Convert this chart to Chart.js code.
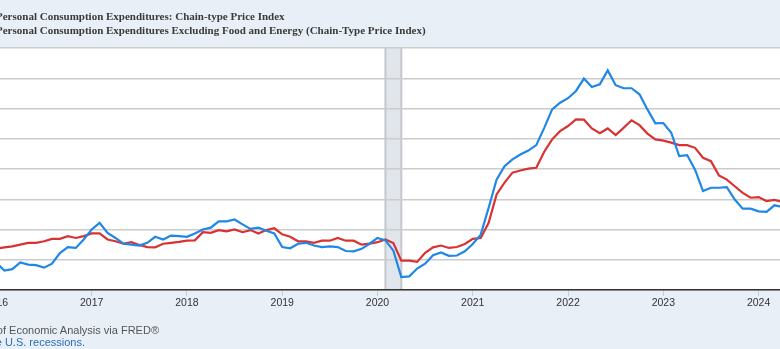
<!DOCTYPE html>
<html>
<head>
<meta charset="utf-8">
<script src="https://cdn.jsdelivr.net/npm/chart.js@4.4.1/dist/chart.umd.min.js"></script>
<style>
html, body { margin: 0; padding: 0; width: 780px; height: 349px; overflow: hidden; background: #e8eff7; }
#wrap { position: absolute; left: -80px; top: 0; width: 880px; height: 349px; }
.ttl { position: absolute; left: -4px; font: bold 11px "Liberation Serif", "Times New Roman", serif; color: #3a3a3a; white-space: nowrap; }
.foot { position: absolute; font: 11px "Liberation Sans", Arial, sans-serif; white-space: nowrap; }
</style>
</head>
<body>
<div id="wrap"><canvas id="myChart"></canvas></div>
<div class="ttl" style="top:10px">Personal Consumption Expenditures: Chain-type Price Index</div>
<div class="ttl" style="top:24px">Personal Consumption Expenditures Excluding Food and Energy (Chain-Type Price Index)</div>
<div class="foot" style="right:621px; top:324px; color:#555">Source: U.S. Bureau of Economic Analysis via FRED®</div>
<div class="foot" style="right:695px; top:336px; color:#2a6ebb">Shaded areas indicate U.S. recessions.</div>
<script>
// monthly, percent change from year ago, Jan 2016 .. Apr 2024
var startYear = 2016

var pce = [
  0.90, 0.64, 0.69, 0.91, 0.84, 0.82, 0.74, 0.87, 1.22, 1.42, 1.39, 1.67,
  2.00, 2.22, 1.89, 1.72, 1.53, 1.50, 1.47, 1.56, 1.76, 1.67, 1.80, 1.78,
  1.76, 1.87, 2.00, 2.06, 2.27, 2.27, 2.33, 2.17, 2.02, 2.06, 1.96, 1.87,
  1.42, 1.38, 1.53, 1.56, 1.47, 1.42, 1.44, 1.42, 1.29, 1.28, 1.36, 1.53,
  1.72, 1.64, 1.30, 0.43, 0.45, 0.71, 0.87, 1.15, 1.24, 1.13, 1.14, 1.28,
  1.52, 1.83, 2.72, 3.65, 4.09, 4.32, 4.48, 4.61, 4.79, 5.36, 5.97, 6.19,
  6.34, 6.58, 6.99, 6.71, 6.80, 7.26, 6.77, 6.67, 6.67, 6.47, 5.97, 5.51,
  5.52, 5.20, 4.43, 4.46, 3.98, 3.27, 3.38, 3.38, 3.40, 2.99, 2.69, 2.69,
  2.60, 2.58, 2.80, 2.75
]

var core = [
  1.37, 1.41, 1.44, 1.50, 1.56, 1.56, 1.61, 1.69, 1.69, 1.78, 1.72, 1.78,
  1.87, 1.87, 1.67, 1.61, 1.53, 1.58, 1.49, 1.42, 1.41, 1.53, 1.56, 1.59,
  1.63, 1.64, 1.91, 1.89, 1.98, 1.94, 2.00, 1.91, 1.98, 1.87, 1.98, 2.04,
  1.84, 1.76, 1.61, 1.61, 1.56, 1.63, 1.63, 1.72, 1.63, 1.63, 1.50, 1.53,
  1.58, 1.67, 1.55, 0.97, 0.97, 0.93, 1.23, 1.41, 1.47, 1.39, 1.42, 1.52,
  1.69, 1.72, 2.22, 3.16, 3.55, 3.88, 3.95, 4.01, 4.04, 4.57, 4.98, 5.25,
  5.42, 5.64, 5.63, 5.34, 5.18, 5.34, 5.12, 5.36, 5.61, 5.45, 5.17, 4.98,
  4.94, 4.87, 4.79, 4.79, 4.70, 4.37, 4.26, 3.79, 3.65, 3.43, 3.21, 3.05,
  3.07, 2.94, 2.98, 2.91
]

var yearTicks = [2016, 2017, 2018, 2019, 2020, 2021, 2022, 2023, 2024]
var recession = [[2020, 2], [2020, 4]]

function monthIndex(y, m) { return (y - startYear) * 12 + (m - 1) }

function toPoints(arr) {
  return arr.map(function (v, i) { return { x: i, y: v } })
}

var plotBg = {
  id: 'plotBg',
  beforeDraw: function (chart) {
    var ctx = chart.ctx, a = chart.chartArea, xs = chart.scales.x
    ctx.save()
    ctx.fillStyle = '#ffffff'
    ctx.fillRect(a.left, a.top, a.right - a.left, a.bottom - a.top)
    var x0 = xs.getPixelForValue(monthIndex(recession[0][0], recession[0][1]))
    var x1 = xs.getPixelForValue(monthIndex(recession[1][0], recession[1][1]))
    ctx.fillStyle = '#e1e5ec'
    ctx.fillRect(x0, a.top, x1 - x0, a.bottom - a.top)
    ctx.strokeStyle = '#c5c8cc'
    ctx.lineWidth = 2
    ctx.beginPath()
    ctx.moveTo(x0, a.top); ctx.lineTo(x0, a.bottom)
    ctx.moveTo(x1, a.top); ctx.lineTo(x1, a.bottom)
    ctx.stroke()
    ctx.restore()
  }
}

new Chart('myChart', {
  type: 'line',
  data: {
    datasets: [{
      label: 'Personal Consumption Expenditures: Chain-type Price Index',
      data: toPoints(pce),
      borderColor: '#1f87e5',
      borderWidth: 2.2,
      pointRadius: 0,
      tension: 0
    }, {
      label: 'Personal Consumption Expenditures Excluding Food and Energy (Chain-Type Price Index)',
      data: toPoints(core),
      borderColor: '#d93232',
      borderWidth: 2.2,
      pointRadius: 0,
      tension: 0
    }]
  },
  options: {
    responsive: true,
    maintainAspectRatio: false,
    animation: false,
    layout: { padding: { top: 48, bottom: 34, left: 0, right: 17.6 } },
    plugins: { legend: { display: false }, tooltip: { enabled: false } },
    scales: {
      x: {
        type: 'linear',
        min: 0,
        max: pce.length - 1,
        afterFit: function (s) { s.height = 25 },
        afterBuildTicks: function (s) {
          s.ticks = yearTicks.map(function (y) { return { value: monthIndex(y, 1) } })
        },
        ticks: {
          callback: function (v) { return String(startYear + v / 12) },
          color: '#333',
          font: { family: 'Liberation Sans, Arial, sans-serif', size: 10.5 },
          padding: 1,
          maxRotation: 0
        },
        grid: { drawOnChartArea: false, drawTicks: true, tickLength: 6, color: '#cccccc' },
        border: { display: true, color: '#333', width: 1.5 }
      },
      y: {
        min: 0,
        max: 8,
        afterFit: function (s) { s.width = 76.4 },
        ticks: { stepSize: 1, display: false },
        grid: { color: '#cccccc', lineWidth: 1.5, drawTicks: false },
        border: { display: false }
      }
    }
  },
  plugins: [plotBg]
})
</script>
</body>
</html>
